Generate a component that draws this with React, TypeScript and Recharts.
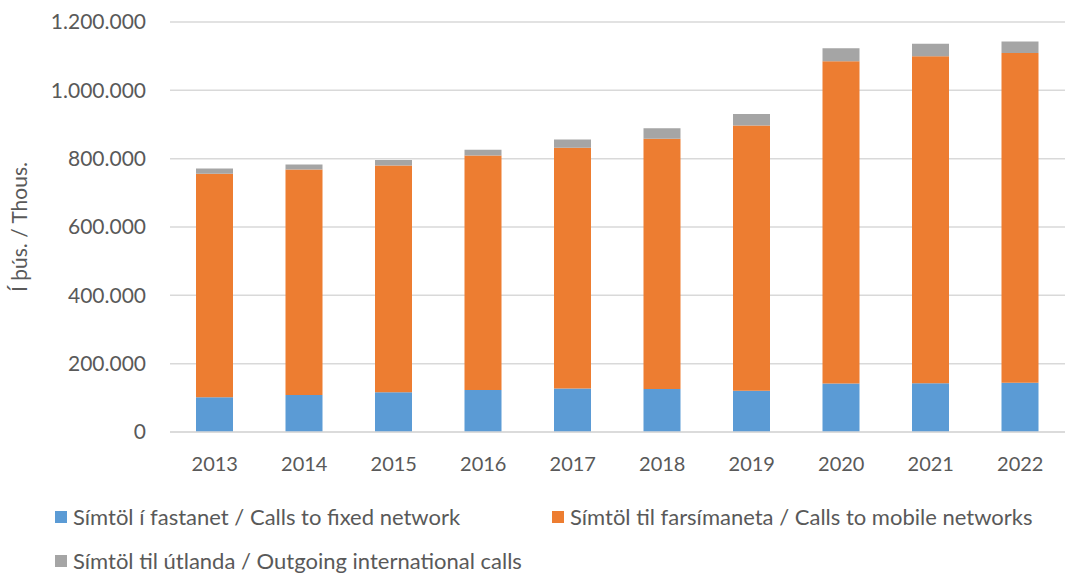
import React from "react";
import { BarChart, Bar, XAxis, YAxis, CartesianGrid, Legend } from "recharts";

// Símtöl í þús. mínútna / calls, thousands
const years = ["2013", "2014", "2015", "2016", "2017", "2018", "2019", "2020", "2021", "2022"];
const fixedCalls = [102000, 108000, 116000, 123000, 127000, 126000, 121000, 142000, 143000, 144000];
const mobileCalls = [654000, 660000, 664000, 686000, 705000, 732000, 776000, 943000, 957000, 965000];
const intlCalls = [15000, 15000, 16000, 17000, 24000, 31000, 34000, 38000, 36000, 34000];
const yTicks = [0, 200000, 400000, 600000, 800000, 1000000, 1200000];

const seriesNames = {
  fixed: "Símtöl í fastanet / Calls to fixed network",
  mobile: "Símtöl til farsímaneta / Calls to mobile networks",
  intl: "Símtöl til útlanda / Outgoing international calls",
};

const colors = { fixed: "#5B9BD5", mobile: "#ED7D31", intl: "#A5A5A5" };

const data = years.map((y, i) => ({
  year: y,
  fixed: fixedCalls[i],
  mobile: mobileCalls[i],
  intl: intlCalls[i],
}));

const font = "Lato, 'Open Sans', sans-serif";
const textColor = "#595959";

const fmt = (v: number) => String(v).replace(/\B(?=(\d{3})+(?!\d))/g, ".");

function LegendBox() {
  const items: Array<keyof typeof colors> = ["fixed", "mobile", "intl"];
  const widths = [497, 500, 700];
  return (
    <div style={{ display: "flex", flexWrap: "wrap", width: 1065, paddingLeft: 55, paddingTop: 31, fontFamily: font, fontSize: 22, color: textColor, boxSizing: "border-box" }}>
      {items.map((k, i) => (
        <div key={k} style={{ width: widths[i], height: 44, display: "flex", alignItems: "flex-start", whiteSpace: "nowrap" }}>
          <span style={{ display: "inline-block", width: 12, height: 12, background: colors[k], marginTop: 7, marginRight: 6 }} />
          <span style={{ lineHeight: "26px" }}>{seriesNames[k]}</span>
        </div>
      ))}
    </div>
  );
}

export default function App() {
  return (
    <div style={{ position: "absolute", left: 0, top: 0, width: 1070, height: 573, background: "#fff" }}>
      <BarChart width={1070} height={573} data={data} margin={{ top: 22, right: 5, bottom: 0, left: 0 }}>
        <CartesianGrid vertical={false} stroke="#d9d9d9" strokeWidth={1.5} />
        <XAxis
          dataKey="year"
          height={41}
          axisLine={{ stroke: "#d9d9d9", strokeWidth: 1.5 }}
          tickLine={false}
          tickMargin={19}
          tick={{ fill: textColor, fontSize: 20, fontFamily: font }}
        />
        <YAxis
          width={170}
          domain={[0, 1200000]}
          ticks={yTicks}
          tickFormatter={fmt}
          axisLine={false}
          tickLine={false}
          tickMargin={18}
          tick={{ fill: textColor, fontSize: 21, fontFamily: font }}
          label={{
            value: "Í þús. / Thous.",
            angle: -90,
            position: "insideLeft",
            offset: 20,
            style: { textAnchor: "middle", fill: textColor, fontSize: 21, fontFamily: font },
          }}
        />
        <Legend verticalAlign="bottom" height={100} content={() => <LegendBox />} />
        <Bar dataKey="fixed" stackId="a" fill={colors.fixed} barSize={37} isAnimationActive={false} />
        <Bar dataKey="mobile" stackId="a" fill={colors.mobile} barSize={37} isAnimationActive={false} />
        <Bar dataKey="intl" stackId="a" fill={colors.intl} barSize={37} isAnimationActive={false} />
      </BarChart>
    </div>
  );
}
